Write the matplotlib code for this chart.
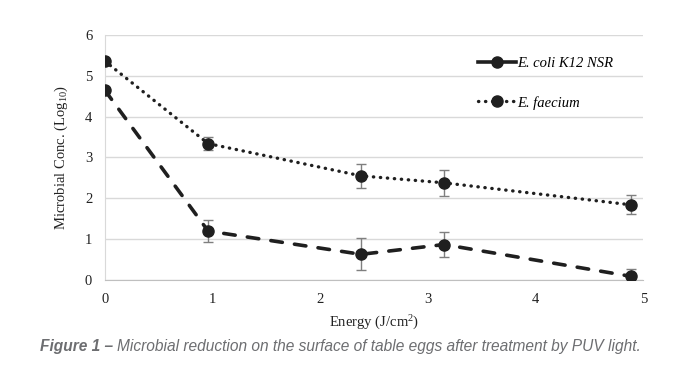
import matplotlib.pyplot as plt
from matplotlib.lines import Line2D
from matplotlib.transforms import offset_copy

# Données
energie = [0, 0.96, 2.38, 3.15, 4.89]
ecoli = [4.65, 1.20, 0.63, 0.87, 0.09]
ecoli_err = [0, 0.27, 0.39, 0.31, 0.17]
faecium = [5.36, 3.34, 2.55, 2.38, 1.84]
faecium_err = [0, 0.16, 0.30, 0.32, 0.23]
series = ['E. coli K12 NSR', 'E. faecium']

serif = 'Liberation Serif'
plt.rcParams['mathtext.fontset'] = 'custom'
plt.rcParams['mathtext.rm'] = serif
plt.rcParams['mathtext.it'] = serif + ':italic'

noir = '#1f1f1f'
pointille = (0, (0.1, 2.0))
style_coli = dict(color=noir, linestyle=(0, (3.2, 3.4)), linewidth=2.6,
                  dash_capstyle='round', marker='o', markersize=8)
style_faec = dict(color=noir, linestyle=pointille, linewidth=2.4,
                  dash_capstyle='round', marker='o', markersize=8)

fig = plt.figure(figsize=(6.8, 3.79), dpi=100)
ax = fig.add_axes([0.154, 0.261, 0.792, 0.647])

ax.errorbar(energie, ecoli, yerr=ecoli_err, ecolor='#7f7f7f', elinewidth=1,
            capsize=3.5, capthick=1, zorder=3, **style_coli)
ax.errorbar(energie, faecium, yerr=faecium_err, ecolor='#7f7f7f', elinewidth=1,
            capsize=3.5, capthick=1, zorder=3, **style_faec)

ax.set_xlim(0, 5)
ax.set_ylim(0, 6)
ax.set_xticks(range(6))
ax.set_yticks(range(7))
ax.grid(axis='y', color='#d9d9d9', linewidth=1)
ax.set_axisbelow(True)
for s in ['top', 'right']:
    ax.spines[s].set_visible(False)
ax.spines['left'].set_color('#d9d9d9')
ax.spines['bottom'].set_color('#bfbfbf')
ax.tick_params(length=0, labelsize=10.5)
ax.tick_params(axis='y', pad=9)
ax.tick_params(axis='x', pad=9)
for lab in ax.get_xticklabels() + ax.get_yticklabels():
    lab.set_fontfamily(serif)
    lab.set_color('#222222')

ax.set_xlabel('Energy (J/cm$^2$)', fontfamily=serif, fontsize=10.5, labelpad=6, color='#222222')
ax.set_ylabel('Microbial Conc. (Log$_{10}$)', fontfamily=serif, fontsize=10.5, labelpad=11,
              color='#222222')

handles = [
    Line2D([], [], color=noir, linewidth=2.6, marker='o', markersize=8),
    Line2D([], [], color=noir, linestyle=pointille, linewidth=2.4,
           dash_capstyle='round', marker='o', markersize=8),
]
ax.legend(handles, series, loc='upper left', bbox_to_anchor=(478 / 680, 1 - 57 / 379),
          bbox_transform=fig.transFigure, frameon=False, borderpad=0, borderaxespad=0,
          handlelength=2.6, handletextpad=0.1, labelspacing=1.75,
          prop={'family': serif, 'style': 'italic', 'size': 10.5})

gris = '#6d6e71'
t1 = fig.text(40 / 680, 1 - 347 / 379, 'Figure 1 –', fontfamily='Liberation Sans',
              fontstyle='italic', fontweight='bold', fontsize=11.2, color=gris, va='center')
r = fig.canvas.get_renderer()
w = t1.get_window_extent(r).width
fig.text(40 / 680, 1 - 347 / 379,
         'Microbial reduction on the surface of table eggs after treatment by PUV light.',
         transform=offset_copy(fig.transFigure, fig=fig, x=w + 4, y=0, units='dots'),
         fontfamily='Liberation Sans', fontstyle='italic', fontsize=11.2, color=gris, va='center')

fig.savefig('out.png', dpi=100)
